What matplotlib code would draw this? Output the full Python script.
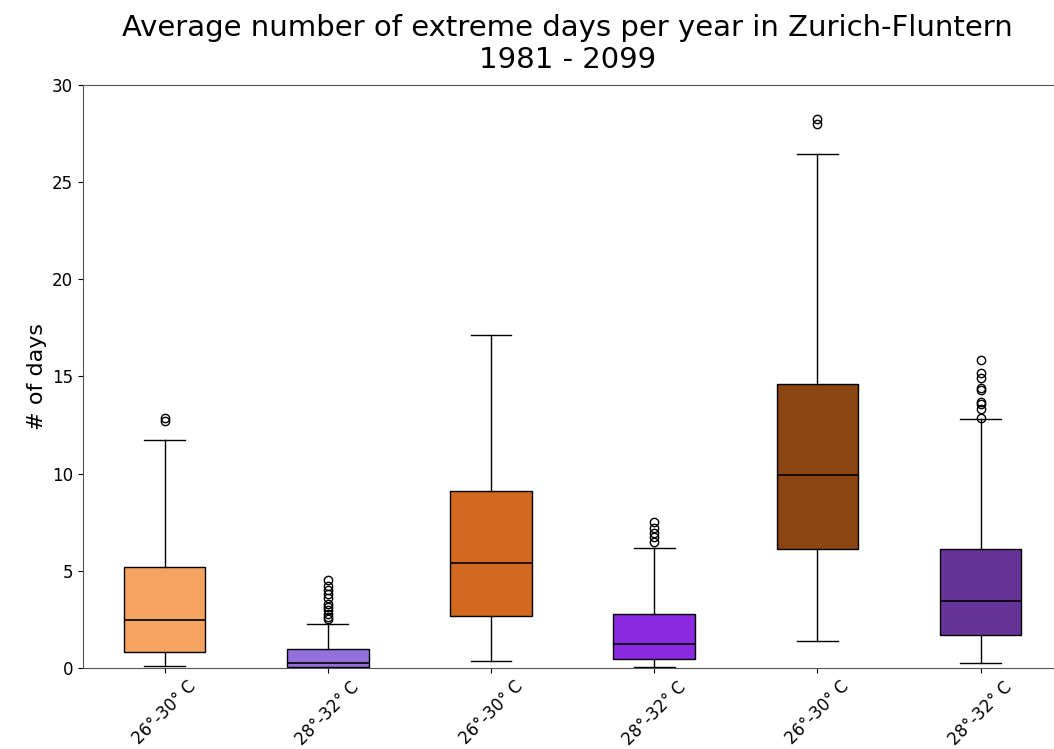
import matplotlib
matplotlib.use("Agg")
import matplotlib.pyplot as plt

labels = ["26°-30° C", "28°-32° C", "26°-30° C", "28°-32° C", "26°-30° C", "28°-32° C"]
colors = ["#F4A460", "#9370DB", "#D2691E", "#8A2BE2", "#8B4513", "#663399"]

q1 = [0.84, 0.04, 2.68, 0.46, 6.12, 1.70]
med = [2.47, 0.27, 5.40, 1.23, 9.93, 3.46]
q3 = [5.21, 0.98, 9.11, 2.76, 14.62, 6.14]
whislo = [0.10, 0.0, 0.36, 0.04, 1.39, 0.24]
whishi = [11.73, 2.28, 17.14, 6.16, 26.42, 12.83]
fliers = [
    [12.73, 12.85],
    [2.5, 2.65, 2.8, 3.0, 3.15, 3.3, 3.6, 3.8, 4.0, 4.2, 4.53],
    [],
    [6.5, 6.74, 6.95, 7.2, 7.53],
    [28.0, 28.24],
    [12.88, 13.31, 13.59, 13.7, 14.3, 14.39, 14.9, 15.16, 15.85],
]

stats = []
for i in range(len(labels)):
    stats.append(dict(q1=q1[i], med=med[i], q3=q3[i], whislo=whislo[i],
                      whishi=whishi[i], fliers=fliers[i], label=labels[i]))

fig = plt.figure(figsize=(10.54, 7.49), dpi=100)
ax = fig.add_axes([0.0787, 0.108, 0.929, 0.779])

bp = ax.bxp(stats, widths=0.5, patch_artist=True,
            medianprops=dict(color="black", linewidth=1.2),
            whiskerprops=dict(color="black", linewidth=1.0),
            capprops=dict(color="black", linewidth=1.0),
            flierprops=dict(marker="o", markerfacecolor="none",
                            markeredgecolor="black", markersize=6),
            boxprops=dict(edgecolor="black", linewidth=1.0))
for patch, c in zip(bp["boxes"], colors):
    patch.set_facecolor(c)

ax.set_ylim(0, 30)
ax.set_xlim(0.5, 6.5)
ax.set_yticks([0, 5, 10, 15, 20, 25, 30])
ax.tick_params(axis="both", labelsize=12)
ax.tick_params(axis="x", labelrotation=45)
ax.set_ylabel("# of days", fontsize=16)
ax.set_title("Average number of extreme days per year in Zurich-Fluntern\n1981 - 2099",
             fontsize=21, pad=12, x=0.495)
for s in ax.spines.values():
    s.set_color("#555555")

fig.savefig("out.png", dpi=100)
